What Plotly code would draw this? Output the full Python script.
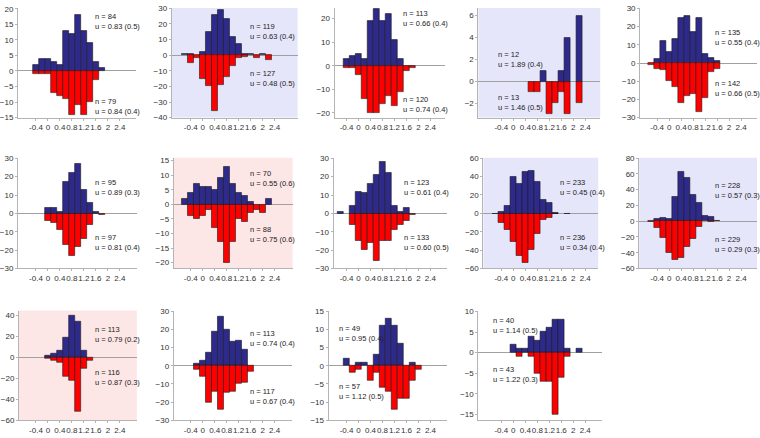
import plotly.graph_objects as go

# bin centres shared by every panel (bin width 0.2)
bins = [-0.6, -0.4, -0.2, 0.0, 0.2, 0.4, 0.6, 0.8, 1.0, 1.2, 1.4, 1.6, 1.8, 2.0, 2.2, 2.4]
x_ticks = [-0.4, 0, 0.4, 0.8, 1.2, 1.6, 2, 2.4]
x_ticktext = ["-0.4", "0", "0.4", "0.8", "1.2", "1.6", "2", "2.4"]

# upper (blue) histograms, counts per bin
up_1 = [0, 2, 4, 4, 3, 2, 13, 12, 18, 13, 9, 3, 1, 0, 0, 0]
up_2 = [1, 1, 0, 2, 15, 26, 29, 23, 12, 7, 1, 1, 0, 1, 0, 0]
up_3 = [0, 3, 4, 5, 3, 19, 24, 19, 22, 11, 3, 0, 0, 0, 0, 0]
up_4 = [0, 0, 0, 0, 0, 0, 0, 0, 1, 0, 0, 1, 4, 0, 6, 0]
up_5 = [0, 2, 12, 6, 13, 25, 26, 17, 25, 5, 3, 1, 0, 0, 0, 0]
up_6 = [0, 0, 0, 3, 3, 1, 17, 22, 27, 13, 6, 1, 0, 0, 0, 0]
up_7 = [2, 4, 7, 6, 6, 5, 9, 13, 7, 4, 3, 1, 0, 0, 2, 0]
up_8 = [1, 0, 4, 12, 11, 16, 21, 28, 22, 4, 1, 3, 0, 0, 0, 0]
up_9 = [0, 2, 8, 40, 32, 45, 46, 34, 15, 11, 1, 0, 0, 0, 0, 0]
up_10 = [0, 3, 4, 3, 31, 63, 55, 33, 23, 7, 5, 1, 0, 0, 0, 0]
up_11 = [0, 0, 0, 2, 4, 7, 19, 40, 34, 7, 0, 0, 0, 0, 0, 0]
up_12 = [0, 0, 1, 3, 7, 19, 27, 20, 13, 14, 9, 0, 0, 0, 0, 0]
up_13 = [0, 2, 0, 1, 1, 0, 3, 11, 13, 11, 6, 0, 1, 0, 0, 0]
up_14 = [0, 0, 0, 2, 1, 1, 4, 3, 5, 6, 8, 8, 1, 0, 1, 0]

# lower (red) histograms, counts per bin (drawn downwards)
down_1 = [0, 1, 1, 1, 7, 8, 9, 14, 11, 14, 10, 3, 0, 0, 0, 0]
down_2 = [0, 5, 2, 15, 20, 36, 19, 14, 7, 2, 1, 0, 2, 0, 3, 0]
down_3 = [0, 1, 1, 4, 14, 20, 20, 16, 13, 17, 11, 2, 1, 0, 0, 0]
down_4 = [0, 0, 0, 0, 0, 0, 1, 1, 0, 3, 2, 1, 3, 0, 2, 0]
down_5 = [1, 3, 4, 10, 13, 22, 18, 17, 27, 19, 5, 3, 0, 0, 0, 0]
down_6 = [0, 0, 0, 4, 5, 9, 17, 23, 18, 14, 6, 0, 1, 0, 0, 0]
down_7 = [0, 4, 5, 4, 2, 8, 13, 20, 13, 5, 6, 3, 2, 3, 0, 0]
down_8 = [0, 0, 6, 15, 20, 16, 26, 15, 15, 9, 6, 4, 1, 0, 0, 0]
down_9 = [1, 10, 18, 31, 46, 54, 40, 22, 7, 5, 1, 0, 1, 0, 0, 0]
down_10 = [1, 8, 21, 40, 49, 47, 33, 22, 7, 0, 1, 0, 0, 0, 0, 0]
down_11 = [0, 0, 0, 1, 3, 5, 18, 22, 52, 11, 3, 0, 0, 0, 0, 0]
down_12 = [0, 0, 2, 6, 20, 14, 24, 15, 14, 10, 9, 3, 0, 0, 0, 0]
down_13 = [0, 0, 2, 1, 0, 4, 2, 6, 7, 12, 9, 9, 4, 1, 0, 0]
down_14 = [0, 0, 0, 0, 1, 0, 1, 5, 7, 7, 15, 6, 1, 0, 0, 0]

up_labels = [
    "n = 84<br>u = 0.83 (0.5)", "n = 119<br>u = 0.63 (0.4)", "n = 113<br>u = 0.66 (0.4)",
    "n = 12<br>u = 1.89 (0.4)", "n = 135<br>u = 0.55 (0.4)", "n = 95<br>u = 0.89 (0.3)",
    "n = 70<br>u = 0.55 (0.6)", "n = 123<br>u = 0.61 (0.4)", "n = 233<br>u = 0.45 (0.4)",
    "n = 228<br>u = 0.57 (0.3)", "n = 113<br>u = 0.79 (0.2)", "n = 113<br>u = 0.74 (0.4)",
    "n = 49<br>u = 0.95 (0.4)", "n = 40<br>u = 1.14 (0.5)",
]
down_labels = [
    "n = 79<br>u = 0.84 (0.4)", "n = 127<br>u = 0.48 (0.5)", "n = 120<br>u = 0.74 (0.4)",
    "n = 13<br>u = 1.46 (0.5)", "n = 142<br>u = 0.66 (0.5)", "n = 97<br>u = 0.81 (0.4)",
    "n = 88<br>u = 0.75 (0.6)", "n = 133<br>u = 0.60 (0.5)", "n = 236<br>u = 0.34 (0.4)",
    "n = 229<br>u = 0.29 (0.3)", "n = 116<br>u = 0.87 (0.3)", "n = 117<br>u = 0.67 (0.4)",
    "n = 57<br>u = 1.12 (0.5)", "n = 43<br>u = 1.22 (0.3)",
]

ups = [up_1, up_2, up_3, up_4, up_5, up_6, up_7, up_8, up_9, up_10, up_11, up_12, up_13, up_14]
downs = [down_1, down_2, down_3, down_4, down_5, down_6, down_7, down_8, down_9, down_10,
         down_11, down_12, down_13, down_14]

# layout (pixels in a 760x438 page)
W, H = 760, 438
col_zero = [47, 202, 358, 513, 669]
px_per_unit = 30.0
row_box = [(4, 116), (157, 270), (313, 425)]
panel_lr = [(17, 135), (171, 297), (334, 445), (478, 600), (640, 757),
            (17, 136), (173, 292), (333, 447), (483, 598), (639, 757),
            (18, 136), (173, 291), (328, 447), (478, 602)]
y_ranges = [(-15, 20.3), (-40, 30.3), (-22, 24.5), (-3.3, 6.7), (-30, 30.3),
            (-30, 30.3), (-22, 16), (-30, 30.3), (-60, 60.5), (-60, 80.5),
            (-60, 44.7), (-30, 30.3), (-15, 15.2), (-16.4, 10.2)]
y_dtick = [5, 10, 10, 2, 10, 10, 5, 10, 20, 20, 20, 10, 5, 5]
bg = {2: "#e6e6fa", 4: "#e6e6fa", 9: "#e6e6fa", 10: "#e6e6fa", 7: "#fde6e6", 11: "#fde6e6"}
up_pos = [(92, 18), (247, 28), (401, 15), (496, 57), (713, 34),
          (92, 187), (247, 178), (402, 187), (558, 187), (713, 190),
          (92, 337), (247, 342), (336, 336), (491, 328)]
down_pos = [(92, 105), (247, 76), (401, 103), (496, 101), (713, 86),
            (92, 243), (247, 235), (402, 243), (558, 243), (713, 246),
            (92, 381), (247, 401), (336, 396), (491, 378)]

BLUE = "#2e2a8c"
RED = "#ff0000"
AXIS = "#b4b4b4"
FONT = "Liberation Sans, Arial, sans-serif"

fig = go.Figure()
shapes = []
annotations = []

for i in range(14):
    k = i + 1
    sfx = "" if k == 1 else str(k)
    r, c = divmod(i, 5)
    left, right = panel_lr[i]
    top, bottom = row_box[r]
    zero = col_zero[c]

    # empty bins are left out so no outline is drawn along the zero line
    fig.add_trace(go.Bar(x=bins, y=[v if v else None for v in ups[i]], width=0.2,
                         marker_color=BLUE, marker_line=dict(color="#1a1a1a", width=0.6),
                         xaxis="x" + sfx, yaxis="y" + sfx, showlegend=False))
    fig.add_trace(go.Bar(x=bins, y=[-v if v else None for v in downs[i]], width=0.2,
                         marker_color=RED, marker_line=dict(color="#1a1a1a", width=0.6),
                         xaxis="x" + sfx, yaxis="y" + sfx, showlegend=False))

    fig.layout["xaxis" + sfx] = dict(
        domain=[left / W, right / W], anchor="y" + sfx,
        range=[(left - zero) / px_per_unit, (right - zero) / px_per_unit],
        tickvals=x_ticks, ticktext=x_ticktext, tickangle=0,
        tickfont=dict(size=8, color="#333"), showgrid=False, zeroline=False,
        showline=True, linecolor=AXIS, linewidth=1, ticks="outside", ticklen=2, tickcolor=AXIS,
    )
    lo, hi = y_ranges[i]
    fig.layout["yaxis" + sfx] = dict(
        domain=[1 - bottom / H, 1 - top / H], anchor="x" + sfx,
        range=[lo, hi], dtick=y_dtick[i], tick0=0,
        tickfont=dict(size=8, color="#333"), showgrid=False,
        zeroline=True, zerolinecolor="#a0a0a0", zerolinewidth=1,
        showline=True, linecolor=AXIS, linewidth=1, ticks="outside", ticklen=2, tickcolor=AXIS,
    )

    if k in bg:
        shapes.append(dict(type="rect", xref="x" + sfx + " domain", yref="y" + sfx + " domain",
                           x0=0, x1=1, y0=0, y1=1, fillcolor=bg[k], line=dict(width=0),
                           layer="below"))

    for txt, (px, py) in ((up_labels[i], up_pos[i]), (down_labels[i], down_pos[i])):
        annotations.append(dict(text=txt, x=px / W, y=1 - py / H, xref="paper", yref="paper",
                                xanchor="left", yanchor="middle", align="left", showarrow=False,
                                font=dict(size=7.5, color="#222")))

fig.update_layout(
    width=W, height=H, margin=dict(l=0, r=0, t=0, b=0),
    barmode="overlay", bargap=0,
    paper_bgcolor="white", plot_bgcolor="white",
    font=dict(family=FONT),
    shapes=shapes, annotations=annotations,
)

# the page body has a default 8px margin; drop it so the figure sits at the corner
fig.write_html("out.html", config={"displayModeBar": False},
               post_script="document.body.style.margin='0';")
